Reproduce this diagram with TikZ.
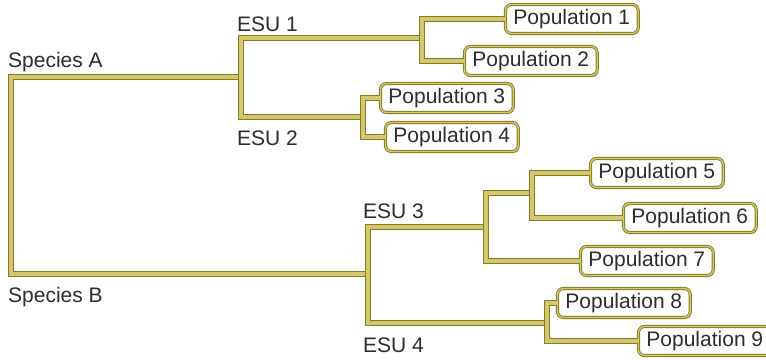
\documentclass[tikz,border=0pt]{standalone}
\usepackage{fontspec}
\setmainfont{Liberation Sans}
\usetikzlibrary{shadows}
\definecolor{branchdark}{RGB}{135,124,35}
\definecolor{branchlight}{RGB}{212,200,110}
\definecolor{txt}{RGB}{45,45,45}
\begin{document}
\begin{tikzpicture}[x=1pt,y=-1pt,
  branch/.style={draw=branchdark,double=branchlight,line width=1.5pt,double distance=3.8pt,line join=miter},
  popbox/.style={draw=branchdark,double=branchlight,line width=0.9pt,double distance=1.3pt,
    rounded corners=6pt,fill=white,anchor=west,minimum height=29pt,inner xsep=8pt,inner ysep=2pt,
    text=txt,font=\fontsize{21}{24}\selectfont,
    drop shadow={shadow xshift=1.5pt,shadow yshift=-1.5pt,fill=black!30}},
  lab/.style={anchor=base west,inner sep=0pt,text=txt,font=\fontsize{21}{24}\selectfont}]
\useasboundingbox[fill=white] (0,0) rectangle (766,359);
% labels
\node[lab] (spA) at (8,67) {Species A};
\node[lab] (spB) at (8,302) {Species B};
\node[lab] (esu1) at (237,31) {ESU 1};
\node[lab] (esu2) at (237,145) {ESU 2};
\node[lab] (esu3) at (363,218) {ESU 3};
\node[lab] (esu4) at (363,352) {ESU 4};
% branch points
\coordinate (root) at (11,77);
\coordinate (nA) at (241,77);
\coordinate (nB) at (368,274);
\coordinate (n1) at (422,38);
\coordinate (n2) at (363,117);
\coordinate (n3) at (486,227);
\coordinate (n4) at (547,323);
\coordinate (n56) at (532,193);
% branches
\draw[branch] (nA) -- (root) -- (root |- nB) -- (nB);
\draw[branch] (n1) -- (nA |- n1) -- (nA |- n2) -- (n2);
\draw[branch] (n3) -- (nB |- n3) -- (nB |- n4) -- (n4);
% population boxes
\node[popbox] (p1) at (505,19) {Population 1};
\node[popbox] (p2) at (464,61) {Population 2};
\node[popbox] (p3) at (380,98) {Population 3};
\node[popbox] (p4) at (385,137) {Population 4};
\node[popbox] (p5) at (590,173) {Population 5};
\node[popbox] (p6) at (623,218) {Population 6};
\node[popbox] (p7) at (580,261) {Population 7};
\node[popbox] (p8) at (557,303) {Population 8};
\node[popbox] (p9) at (638,341) {Population 9};
% terminal branches
\draw[branch] (p1.west) -- (n1 |- p1.west) -- (n1 |- p2.west) -- (p2.west);
\draw[branch] (p3.west) -- (n2 |- p3.west) -- (n2 |- p4.west) -- (p4.west);
\draw[branch] (n56) -- (n3 |- n56) -- (n3 |- p7.west) -- (p7.west);
\draw[branch] (p5.west) -- (n56 |- p5.west) -- (n56 |- p6.west) -- (p6.west);
\draw[branch] (p8.west) -- (n4 |- p8.west) -- (n4 |- p9.west) -- (p9.west);
\end{tikzpicture}
\end{document}
